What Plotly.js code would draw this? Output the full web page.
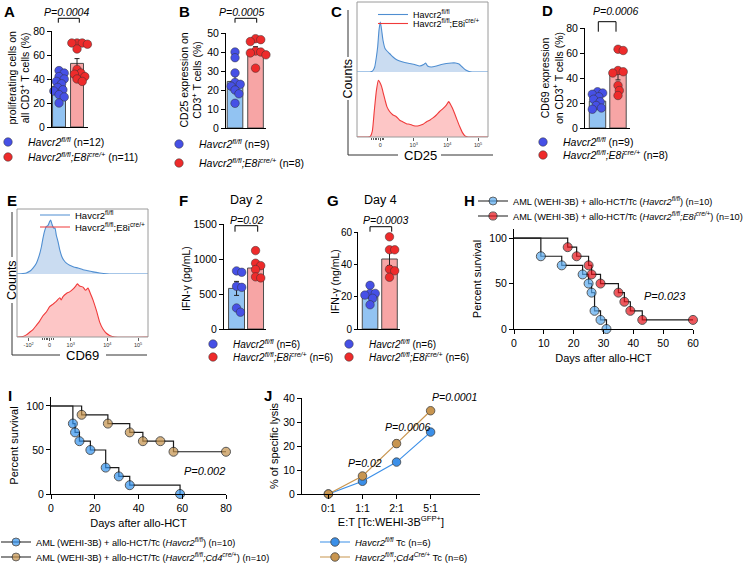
<!DOCTYPE html>
<html><head><meta charset="utf-8">
<script src="https://cdn.plot.ly/plotly-3.0.1.min.js"></script>
<style>html,body{margin:0;padding:0;background:#fff}#chart{width:743px;height:567px}</style>
</head><body><div id="chart"></div>
<script>
// ================= DATA =================
// Legend labels
const barLegA = ['<i>Havcr2<sup>fl/fl</sup></i> (n=12)', '<i>Havcr2<sup>fl/fl</sup>;E8i<sup>cre/+</sup></i> (n=11)'];
const barLegB = ['<i>Havcr2<sup>fl/fl</sup></i> (n=9)', '<i>Havcr2<sup>fl/fl</sup>;E8i<sup>cre/+</sup></i> (n=8)'];
const barLegD = ['<i>Havcr2<sup>fl/fl</sup></i> (n=9)', '<i>Havcr2<sup>fl/fl</sup>;E8i<sup>cre/+</sup></i> (n=8)'];
const barLegFG = ['<i>Havcr2<sup>fl/fl</sup></i> (n=6)', '<i>Havcr2<sup>fl/fl</sup>;E8i<sup>cre/+</sup></i> (n=6)'];
const flowLeg = ['Havcr2<sup>fl/fl</sup>', 'Havcr2<sup>fl/fl</sup>;E8i<sup>cre/+</sup>'];
const survLegH = ['AML (WEHI-3B) + allo-HCT/Tc (<i>Havcr2<sup>fl/fl</sup></i>) (n=10)', 'AML (WEHI-3B) + allo-HCT/Tc (<i>Havcr2<sup>fl/fl</sup>;E8i<sup>cre/+</sup></i>) (n=10)'];
const survLegI = ['AML (WEHI-3B) + allo-HCT/Tc (<i>Havcr2<sup>fl/fl</sup></i>) (n=10)', 'AML (WEHI-3B) + allo-HCT/Tc (<i>Havcr2<sup>fl/fl</sup>;Cd4<sup>cre/+</sup></i>) (n=10)'];
const lysisLeg = ['<i>Havcr2<sup>fl/fl</sup></i> Tc (n=6)', '<i>Havcr2<sup>fl/fl</sup>;Cd4<sup>Cre/+</sup></i> Tc (n=6)'];

// A: proliferating cells (%)
const aBlue = [47, 45, 42, 40, 38, 36, 33, 31, 30, 27, 25, 20];
const aRed  = [70, 70, 70, 69, 65, 48, 45, 44, 42, 40, 38];
const aMean = [34, 53];
const aSem  = [2.2, 4];
// B: CD25 (%)
const bBlue = [40, 37, 29, 24, 23, 22, 20, 18, 13];
const bRed  = [47, 46.5, 45.5, 40.5, 40, 39.5, 38.5, 31.5];
const bMean = [24.5, 41];
const bSem  = [3, 1.8];
// D: CD69 (%)
const dBlue = [29, 28, 27, 25, 23, 21, 18, 16, 15];
const dRed  = [63, 62, 46, 45, 44, 34, 30, 26];
const dMean = [21.5, 43];
const dSem  = [1.7, 4.5];
// F: IFN-g day 2 (pg/mL)
const fBlue = [830, 810, 610, 595, 300, 240];
const fRed  = [1120, 940, 905, 850, 745, 730];
const fMean = [580, 871];
const fSem  = [100, 60];
// G: IFN-g day 4 (ng/mL)
const gBlue = [27, 22, 22, 21, 19, 15];
const gRed  = [57, 49, 49, 37, 36, 32];
const gMean = [20.6, 43.3];
const gSem  = [1.6, 4];

// C: CD25 histograms (display channel 0-100, normalized counts)
const cBlueX = [0, 4.6, 9.7, 11.2, 12.2, 13.5, 14.8, 15.8, 16.8, 17.8, 18.8, 19.8, 21.4, 22.9, 24.9, 27.5, 30.0, 32.6, 36.4, 40.2, 44.0, 47.8, 50.9, 52.4, 53.9, 56.7, 60.6, 64.4, 68.2, 72.0, 75.3, 77.9, 80.4, 83.0, 85.5, 88.0, 100];
const cBlueY = [0, 0, 0, 0.01, 0.03, 0.1, 0.3, 0.51, 0.84, 1.0, 0.84, 0.64, 0.47, 0.42, 0.37, 0.3, 0.25, 0.22, 0.19, 0.17, 0.15, 0.12, 0.15, 0.18, 0.12, 0.1, 0.12, 0.15, 0.17, 0.18, 0.18, 0.16, 0.1, 0.04, 0.01, 0, 0];
const cRedX = [0, 8.4, 10.2, 11.7, 13.2, 14.8, 16.3, 17.3, 18.8, 19.8, 21.4, 22.9, 24.9, 27.5, 30.0, 32.6, 35.1, 37.7, 40.2, 42.7, 45.3, 47.8, 50.4, 52.9, 55.5, 58.0, 60.6, 63.1, 65.6, 68.2, 70.0, 71.2, 72.8, 74.6, 76.3, 78.4, 80.4, 82.4, 84.7, 100];
const cRedY = [0, 0, 0.01, 0.1, 0.45, 0.8, 0.98, 0.95, 0.87, 0.78, 0.64, 0.52, 0.44, 0.38, 0.35, 0.29, 0.26, 0.23, 0.22, 0.2, 0.19, 0.2, 0.22, 0.26, 0.29, 0.33, 0.38, 0.44, 0.49, 0.55, 0.61, 0.57, 0.5, 0.4, 0.3, 0.18, 0.08, 0.02, 0, 0];
const cTickVals = [17.8, 43.3, 69, 92.4];
const cTickText = ['0', '10<sup>3</sup>', '10<sup>4</sup>', '10<sup>5</sup>'];
const cMinor = [11, 12.5, 14, 15.2, 16.3, 19.2, 20.5];

// E: CD69 histograms
const eBlueX = [0, 4.6, 7.1, 9.7, 12.2, 14.8, 16.8, 18.6, 19.8, 21.1, 22.4, 23.7, 24.9, 25.7, 26.7, 28.0, 29.0, 30.0, 31.3, 32.6, 34.1, 35.6, 37.7, 40.2, 43.3, 46.6, 50.4, 54.2, 58.0, 63.1, 68.2, 73.3, 100];
const eBlueY = [0, 0.01, 0.02, 0.05, 0.11, 0.2, 0.33, 0.5, 0.66, 0.8, 0.88, 0.9, 0.97, 1.0, 0.92, 0.85, 0.85, 0.72, 0.6, 0.45, 0.33, 0.26, 0.2, 0.16, 0.13, 0.11, 0.08, 0.06, 0.04, 0.02, 0.005, 0, 0];
const eRedX = [0, 4.6, 7.1, 9.7, 12.2, 14.8, 17.3, 19.8, 22.4, 24.9, 27.5, 30.0, 32.6, 33.8, 35.1, 37.7, 40.2, 42.7, 44.8, 46.1, 47.8, 50.4, 52.4, 54.2, 56.0, 58.0, 60.6, 63.1, 65.6, 68.2, 70.7, 74.6, 100];
const eRedY = [0, 0.01, 0.04, 0.09, 0.14, 0.22, 0.3, 0.4, 0.47, 0.57, 0.62, 0.67, 0.74, 0.7, 0.76, 0.82, 0.85, 0.9, 0.96, 1.0, 0.96, 0.94, 0.88, 0.92, 0.82, 0.7, 0.5, 0.28, 0.15, 0.07, 0.03, 0, 0];
const eTickVals = [8.9, 24.9, 41, 69, 92.4];
const eTickText = ['-10<sup>2</sup>', '0', '10<sup>3</sup>', '10<sup>4</sup>', '10<sup>5</sup>'];
const eMinor = [19.5, 21, 22.5, 23.5, 26.5, 28];

// H: survival
const hDaysBlue = [0, 9, 16, 23, 25, 26, 27, 29, 31];
const hSurvBlue = [100, 80, 70, 60, 50, 40, 20, 10, 0];
const hDaysRed  = [0, 18, 21, 25, 26, 29, 35, 37, 39, 43, 60];
const hSurvRed  = [100, 90, 80, 70, 60, 50, 40, 30, 20, 10, 10];
// I: survival
const iDaysBlue = [0, 10, 11, 13, 18, 25, 31, 36, 59];
const iSurvBlue = [100, 80, 70, 60, 50, 30, 20, 10, 0];
const iDaysGold = [0, 14, 26, 36, 42, 50, 56, 80];
const iSurvGold = [100, 90, 80, 70, 60, 60, 48, 48];
// J: specific lysis
const jRatios = ['0:1', '1:1', '2:1', '5:1'];
const jBlue = [0, 5.3, 13.3, 25.8];
const jBlueErr = [0, 0.3, 0.5, 0.5];
const jGold = [0, 7.5, 21, 34.7];
const jGoldErr = [0, 0.5, 1.5, 0.5];

// ================= LAYOUT HELPERS =================
const W = 743, H = 567;
const fx = p => p / W;
const fy = p => 1 - p / H;
const FONT = "'Liberation Sans', Arial, Helvetica, sans-serif";
const ref = (l, n) => n === 1 ? l : l + n;
const key = (l, n) => n === 1 ? l + 'axis' : l + 'axis' + n;

const BAR_BLUE = '#92c3f2', BAR_RED = '#f7a5a5';
const DOT_BLUE = '#4650e6', DOT_RED = '#ee2b2b';

const layout = {
  width: W, height: H,
  margin: {l: 0, r: 0, t: 0, b: 0, autoexpand: false},
  paper_bgcolor: '#ffffff', plot_bgcolor: 'rgba(0,0,0,0)',
  font: {family: FONT, size: 10.5, color: '#000'},
  showlegend: true, barmode: 'overlay', hovermode: false
};
const traces = [], annotations = [], shapes = [];
let legN = 0;
function addLegend(leftPx, yPx, size) {
  legN++;
  const id = legN === 1 ? 'legend' : 'legend' + legN;
  layout[id] = {x: fx(leftPx), y: fy(yPx), xanchor: 'left', yanchor: 'middle',
    bgcolor: 'rgba(0,0,0,0)', borderwidth: 0, font: {family: FONT, size: size, color: '#000'},
    itemclick: false, itemdoubleclick: false};
  return id;
}
function txt(x, y, text, opts) {
  annotations.push(Object.assign({xref: 'paper', yref: 'paper', x: fx(x), y: fy(y), text: text,
    showarrow: false, xanchor: 'center', yanchor: 'middle',
    font: {family: FONT, size: 10.5, color: '#000'}}, opts || {}));
}
function seg(pts, color, width) {
  shapes.push({type: 'path', xref: 'paper', yref: 'paper',
    path: 'M' + pts.map(p => fx(p[0]) + ',' + fy(p[1])).join('L'),
    line: {color: color || '#000', width: width || 1}});
}
// simple beeswarm (pixel space) so dots don't overlap too much
function swarm(vals, center, ux, uy, d) {
  const placed = [], xs = new Array(vals.length);
  const order = vals.map((v, i) => i).sort((a, b) => vals[b] - vals[a]);
  const step = 1.3, minD = d * 0.6;
  for (const i of order) {
    const yp = vals[i] * uy;
    let best = 0;
    for (let k = 0; k < 60; k++) {
      const off = (k % 2 === 1 ? 1 : -1) * Math.ceil(k / 2) * step;
      if (placed.every(p => Math.hypot(p.x - off, p.y - yp) >= minD)) { best = off; break; }
    }
    placed.push({x: best, y: yp});
    xs[i] = center + best / ux;
  }
  return xs;
}

// ================= BAR + DOT PANELS =================
function barPanel(n, cfg, blue, red, mean, sem, names, legPos, legSize) {
  layout[key('x', n)] = {domain: [fx(cfg.x[0]), fx(cfg.x[1])], range: cfg.xr, anchor: ref('y', n),
    showline: true, linecolor: '#000', linewidth: 1, ticks: '', showticklabels: false,
    showgrid: false, zeroline: false, fixedrange: true};
  layout[key('y', n)] = {domain: [fy(cfg.y[1]), fy(cfg.y[0])], range: cfg.yr, anchor: ref('x', n),
    showline: true, linecolor: '#000', linewidth: 1, ticks: 'outside', ticklen: cfg.tl || 4, tickwidth: 1,
    tickcolor: '#000', tick0: 0, dtick: cfg.dt, tickfont: {family: FONT, size: cfg.tf || 10.5, color: '#000'},
    showgrid: false, zeroline: false, fixedrange: true};
  traces.push({type: 'bar', x: [0, 1], y: mean, width: cfg.bw, xaxis: ref('x', n), yaxis: ref('y', n),
    marker: {color: [BAR_BLUE, BAR_RED], line: {color: '#4d4d4d', width: 1}},
    error_y: {type: 'data', array: sem, visible: true, color: '#222', thickness: 1, width: 2.5},
    showlegend: false, hoverinfo: 'skip'});
  const ux = (cfg.x[1] - cfg.x[0]) / (cfg.xr[1] - cfg.xr[0]);
  const uy = (cfg.y[1] - cfg.y[0]) / (cfg.yr[1] - cfg.yr[0]);
  [[blue, 0, DOT_BLUE], [red, 1, DOT_RED]].forEach((g, i) => {
    traces.push({type: 'scatter', mode: 'markers', x: swarm(g[0], g[1], ux, uy, 8.5), y: g[0],
      xaxis: ref('x', n), yaxis: ref('y', n), cliponaxis: false,
      marker: {size: 8.5, color: g[2], line: {color: '#333', width: 0.5}},
      name: names[i], legend: addLegend(legPos[i][0] - 24, legPos[i][1], legSize)});
  });
}

barPanel(1, {x: [52, 88], xr: [-0.39, 1.61], y: [31, 127], yr: [0, 80], dt: 20, bw: 0.72},
  aBlue, aRed, aMean, aSem, barLegA, [[12, 142], [12, 157]], 10.5);
barPanel(2, {x: [226, 266], xr: [-0.44, 1.51], y: [33, 128], yr: [0, 50], dt: 10, bw: 0.76},
  bBlue, bRed, bMean, bSem, barLegB, [[183, 144], [183, 163]], 10.5);
barPanel(5, {x: [585, 630], xr: [-0.61, 1.585], y: [28, 128], yr: [0, 80], dt: 20, bw: 0.8},
  dBlue, dRed, dMean, dSem, barLegD, [[547, 142], [547, 155]], 10.5);
barPanel(8, {x: [224, 266], xr: [-0.66, 1.55], y: [224, 329], yr: [0, 1500], dt: 500, bw: 0.84},
  fBlue, fRed, fMean, fSem, barLegFG, [[217, 344], [217, 357]], 10);
barPanel(9, {x: [358, 400], xr: [-0.62, 1.54], y: [232, 329], yr: [0, 60], dt: 20, bw: 0.8, tl: 3, tf: 10},
  gBlue, gRed, gMean, gSem, barLegFG, [[353, 344], [353, 357]], 10);

// y titles of bar panels
txt(18.5, 78, 'proliferating cells on<br>all CD3<sup>+</sup> T cells (%)', {textangle: -90});
txt(190.5, 80, 'CD25 expression on<br>CD3<sup>+</sup> T cells (%)', {textangle: -90});
txt(552, 78, 'CD69 expression<br>on CD3<sup>+</sup> T cells (%)', {textangle: -90});
txt(186, 278, 'IFN-γ (pg/mL)', {textangle: -90});
txt(335, 282, 'IFN-γ (ng/mL)', {textangle: -90});
txt(246, 200.5, 'Day 2', {font: {family: FONT, size: 12.5, color: '#000'}});
txt(380, 200.5, 'Day 4', {font: {family: FONT, size: 12.5, color: '#000'}});

// significance brackets + P values
function bracket(x1, x2, yt, yb) { seg([[x1, yb], [x1, yt], [x2, yt], [x2, yb]], '#000', 1); }
bracket(58.3, 79.3, 18.3, 22.7);
bracket(235, 256.7, 18.3, 22.7);
bracket(598.3, 616, 21.7, 31.7);
bracket(235, 257.7, 225.7, 231.7);
bracket(370, 391.7, 226.7, 231.7);
const pFont = {family: FONT, size: 10.5, color: '#000'};
txt(66.5, 12, '<i>P=0.0004</i>', {font: pFont});
txt(241, 12, '<i>P=0.0005</i>', {font: pFont});
txt(615, 11, '<i>P=0.0006</i>', {font: pFont});
txt(247, 219.5, '<i>P=0.02</i>', {font: pFont});
txt(385, 220, '<i>P=0.0003</i>', {font: pFont});
txt(665, 296, '<i>P=0.023</i>', {font: {family: FONT, size: 11, color: '#000'}});
txt(204, 471, '<i>P=0.002</i>', {font: {family: FONT, size: 11, color: '#000'}});
txt(365, 463, '<i>P=0.02</i>', {font: pFont});
txt(407, 427, '<i>P=0.0006</i>', {font: pFont});
txt(454, 397, '<i>P=0.0001</i>', {font: pFont});

// ================= FLOW HISTOGRAMS =================
function flowPanel(nT, nB, cfg, bx, by, rx, ry, tv, tt, minor, legLeft, legY, legSize) {
  const xd = [fx(cfg.x[0]), fx(cfg.x[1])];
  layout[key('x', nT)] = {domain: xd, range: [0, 100], anchor: ref('y', nT), visible: false, fixedrange: true};
  layout[key('y', nT)] = {domain: [fy(cfg.yT[1]), fy(cfg.yT[0])], range: [0, cfg.yTr], anchor: ref('x', nT), visible: false, fixedrange: true};
  layout[key('x', nB)] = {domain: xd, range: [0, 100], anchor: ref('y', nB), showline: false, showgrid: false,
    zeroline: false, ticks: 'outside', ticklen: 2.5, tickwidth: 0.8, tickcolor: '#333',
    tickmode: 'array', tickvals: tv, ticktext: tt, tickfont: {family: FONT, size: 5.5, color: '#333'},
    minor: {tickmode: 'array', tickvals: minor, ticks: 'outside', ticklen: 2, tickwidth: 0.8, tickcolor: '#333'},
    fixedrange: true};
  layout[key('y', nB)] = {domain: [fy(cfg.yB[1]), fy(cfg.yB[0])], range: [0, cfg.yBr], anchor: ref('x', nB), visible: false, fixedrange: true};
  const sets = [[bx, by, nT, '#4f8ed1', 'rgba(90,145,210,0.32)'], [rx, ry, nB, '#f03a3a', 'rgba(250,120,120,0.42)']];
  sets.forEach((s, i) => {
    traces.push({type: 'scatter', mode: 'lines', x: s[0], y: s[1], xaxis: ref('x', s[2]), yaxis: ref('y', s[2]),
      fill: 'tozeroy', fillcolor: s[4], line: {color: s[3], width: 0, shape: 'spline', smoothing: 0.5},
      showlegend: false, hoverinfo: 'skip'});
    traces.push({type: 'scatter', mode: 'lines', x: s[0], y: s[1], xaxis: ref('x', s[2]), yaxis: ref('y', s[2]),
      line: {color: s[3], width: 1.1, shape: 'spline', smoothing: 0.5}, cliponaxis: false,
      name: flowLeg[i], legend: addLegend(legLeft, legY[i], legSize)});
  });
  shapes.push({type: 'rect', xref: 'paper', yref: 'paper', x0: fx(cfg.x[0]), x1: fx(cfg.x[1]),
    y0: fy(cfg.frame[1]), y1: fy(cfg.frame[0]), line: {color: '#9a9a9a', width: 1}});
}
flowPanel(3, 4, {x: [357, 488], yT: [12, 72], yTr: 1.2, yB: [75, 137], yBr: 1.07, frame: [2, 137]},
  cBlueX, cBlueY, cRedX, cRedY, cTickVals, cTickText, cMinor, 373, [14.5, 23.5], 9);
flowPanel(6, 7, {x: [17, 148], yT: [212, 274], yTr: 1.148, yB: [277, 337], yBr: 1.13, frame: [209, 337]},
  eBlueX, eBlueY, eRedX, eRedY, eTickVals, eTickText, eMinor, 35, [215, 227], 9.5);
// FlowJo-style axis labels
seg([[348, 10], [348, 57]], '#333'); seg([[348, 100], [348, 155], [398, 155]], '#333'); seg([[441, 155], [493, 155]], '#333');
txt(348, 78.5, 'Counts', {textangle: -90, font: {family: FONT, size: 12.5, color: '#000'}});
txt(420, 155, 'CD25', {font: {family: FONT, size: 13, color: '#000'}});
seg([[12, 212], [12, 257]], '#333'); seg([[12, 303], [12, 355], [60, 355]], '#333'); seg([[106, 355], [147, 355]], '#333');
txt(12, 280, 'Counts', {textangle: -90, font: {family: FONT, size: 12.5, color: '#000'}});
txt(82, 355, 'CD69', {font: {family: FONT, size: 13, color: '#000'}});

// ================= SURVIVAL + LYSIS =================
function lineAxes(n, cfg) {
  const common = {showline: true, linecolor: '#000', linewidth: 1, ticks: 'outside', ticklen: 4, tickwidth: 1,
    tickcolor: '#000', showgrid: false, zeroline: false, fixedrange: true,
    tickfont: {family: FONT, size: 10.5, color: '#000'}};
  layout[key('x', n)] = Object.assign({}, common, {domain: [fx(cfg.x[0]), fx(cfg.x[1])], range: cfg.xr,
    anchor: ref('y', n), title: {text: cfg.xt, font: {family: FONT, size: 11, color: '#000'}, standoff: cfg.xs}}, cfg.xextra);
  layout[key('y', n)] = Object.assign({}, common, {domain: [fy(cfg.y[1]), fy(cfg.y[0])], range: cfg.yr,
    anchor: ref('x', n), title: {text: cfg.yt, font: {family: FONT, size: 11, color: '#000'}, standoff: cfg.ys}}, cfg.yextra);
}
lineAxes(10, {x: [514, 693], xr: [0, 60], y: [229, 329], yr: [0, 110], xt: 'Days after allo-HCT', yt: 'Percent survival',
  xs: 6, ys: 5, xextra: {tick0: 0, dtick: 10}, yextra: {tickmode: 'array', tickvals: [0, 50, 100]}});
lineAxes(11, {x: [51, 226], xr: [0, 80], y: [397, 494], yr: [0, 110.2], xt: 'Days after allo-HCT', yt: 'Percent survival',
  xs: 6, ys: 5, xextra: {tick0: 0, dtick: 20}, yextra: {tickmode: 'array', tickvals: [0, 50, 100]}});
lineAxes(12, {x: [302, 480], xr: [-0.775, 4.45], y: [398, 494], yr: [0, 40], xt: 'E:T [Tc:WEHI-3B<sup>GFP+</sup>]', yt: '% of specific lysis',
  xs: 5, ys: 2, xextra: {tickmode: 'array', tickvals: [0, 1, 2, 3], ticktext: jRatios}, yextra: {tick0: 0, dtick: 10}});

function survTrace(n, days, surv, color, name, legId) {
  traces.push({type: 'scatter', mode: 'lines+markers', x: days, y: surv, xaxis: ref('x', n), yaxis: ref('y', n),
    cliponaxis: false, line: {shape: 'hv', color: '#1a1a1a', width: 1.2},
    marker: {color: color, size: days.map((d, i) => i === 0 ? 0 : 9), line: {color: '#111', width: days.map((d, i) => i === 0 ? 0 : 1)}},
    name: name, legend: legId});
}
survTrace(10, hDaysBlue, hSurvBlue, '#5aabf0', survLegH[0], addLegend(497 - 24, 201, 9.2));
survTrace(10, hDaysRed, hSurvRed, '#e8121a', survLegH[1], addLegend(497 - 24, 216, 9.2));
survTrace(11, iDaysBlue, iSurvBlue, '#3393ef', survLegI[0], addLegend(20 - 24, 542, 9.2));
survTrace(11, iDaysGold, iSurvGold, '#c4914a', survLegI[1], addLegend(20 - 24, 557, 9.2));

[[jBlue, jBlueErr, '#3b8fe8', 542], [jGold, jGoldErr, '#c8954f', 557]].forEach((s, i) => {
  traces.push({type: 'scatter', mode: 'lines+markers', x: jRatios.map((r, k) => k), y: s[0],
    xaxis: 'x12', yaxis: 'y12', cliponaxis: false, line: {color: s[2], width: 1.2},
    marker: {color: s[2], size: 8.5, line: {color: '#444', width: 0.8}},
    error_y: {type: 'data', array: s[1], visible: true, color: '#888', thickness: 1, width: 2.5},
    name: lysisLeg[i], legend: addLegend(339 - 24, s[3], 9.5)});
});

// panel letters
const letterFont = {family: FONT, size: 15, color: '#000', weight: 'bold'};
[['A', 9, 11], ['B', 184, 11], ['C', 336, 11], ['D', 547, 10], ['E', 12, 200], ['F', 183, 200],
 ['G', 333, 200], ['H', 469, 200], ['I', 9.5, 395], ['J', 268, 395]].forEach(l => {
  txt(l[1], l[2], '<b>' + l[0] + '</b>', {font: letterFont});
});

layout.annotations = annotations;
layout.shapes = shapes;
Plotly.newPlot('chart', traces, layout, {staticPlot: true, displayModeBar: false});
</script></body></html>
